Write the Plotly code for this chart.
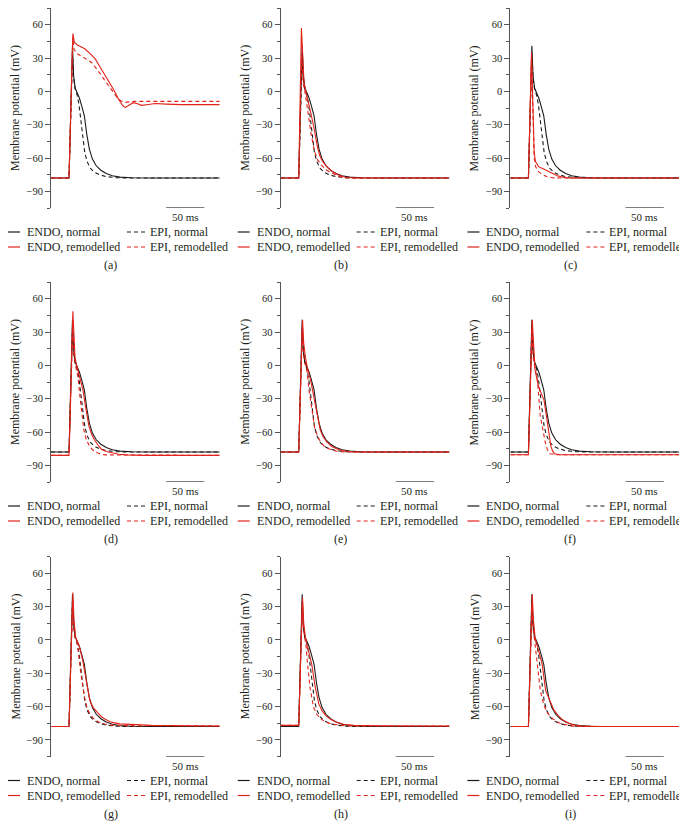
import plotly.graph_objects as go

# ---- data (time in ms, membrane potential in mV) ----
norm_endo_t = [0, 23.5, 28, 29.5, 31.5, 34, 37, 40, 43.5, 46.5, 50, 54, 59, 65, 72, 80, 90, 105, 130, 220]
norm_endo_v = [-78, -78, 41, 14, 3, -1, -6, -13, -22, -38, -52, -61, -67, -71, -74, -76, -77.2, -77.8, -78, -78]
norm_epi_t = [0, 23.5, 28, 29.5, 31.5, 34, 36.5, 39, 41.5, 44, 47, 51, 56, 63, 72, 85, 100, 220]
norm_epi_v = [-78, -78, 34, 12, 2, -3, -12, -28, -44, -55, -63, -69, -72.5, -75, -76.8, -77.7, -78, -78]

a_endo_t = [0, 23.5, 28.5, 29.5, 30.5, 35, 44, 51, 57.5, 63, 68, 74, 81, 88, 94, 97, 102, 107, 112, 118, 127, 136, 150, 170, 220]
a_endo_v = [-78, -78, 52, 47, 44, 41.5, 38.3, 34, 29.4, 23, 17.3, 10, 2.4, -7, -13.2, -14.5, -12.5, -10.2, -11, -12.6, -11.8, -11, -11.5, -12, -12]
a_epi_t = [0, 23.5, 28.5, 30, 33.5, 40, 46, 53, 59, 64, 69, 74.7, 80, 85.6, 91, 96.5, 102, 110, 122.6, 150, 220]
a_epi_v = [-78, -78, 48, 38, 34, 31, 29, 26, 21, 16, 11, 5.4, 0, -5, -8.5, -10, -9.5, -9, -9, -9, -9]

b_endo_t = [0, 23.5, 27, 28.5, 30.4, 33.5, 36, 39, 43.4, 47.8, 51, 55, 61, 68, 76, 85.6, 100, 220]
b_endo_v = [-78, -78, 57, 30, 8, -2.5, -9, -18.6, -33, -50, -58, -63.5, -68.5, -72.5, -75.5, -77.5, -78, -78]
b_epi_t = [0, 23.5, 27.5, 29, 32, 35.5, 39.9, 44.3, 48, 53, 60, 68, 76, 84, 100, 220]
b_epi_v = [-78, -78, 32, 8, -2, -18.6, -39.5, -54.5, -61.5, -66.5, -71, -74, -76.5, -78, -78, -78]

c_endo_t = [0, 23.5, 27.5, 29, 31, 32.6, 37, 42, 47.8, 54, 61, 68, 76, 90, 220]
c_endo_v = [-78, -78, 35, -10, -55, -63, -68, -69.5, -71.5, -74, -76, -77.2, -78, -78, -78]
c_epi_t = [0, 23.5, 27.5, 29, 31, 33, 37, 42, 48, 55, 65, 220]
c_epi_v = [-78, -78, 30, -15, -60, -68, -72.5, -75, -76.8, -77.8, -78, -78]

d_endo_t = [0, 23.5, 28.5, 31.3, 33.5, 38.2, 41.7, 45, 49.5, 53, 56.6, 61, 65.7, 72, 79.5, 88, 98, 120, 220]
d_endo_v = [-81, -81, 48.7, 7.5, 0, -11.7, -22.4, -37, -55, -62, -67, -71.5, -75.5, -77.5, -79, -80, -80.6, -81, -81]
d_epi_t = [0, 23.5, 28.5, 30, 32, 35, 38.2, 42.8, 46, 49.5, 54, 61, 70, 220]
d_epi_v = [-81, -81, 36, 10, 0, -10, -31, -58, -67, -71.7, -76, -79, -80.6, -81]

e_endo_t = [0, 23.5, 28.5, 30, 32.3, 34.5, 39, 43.6, 48.3, 51.5, 55.2, 60, 66.6, 75, 87, 100, 220]
e_endo_v = [-78, -78, 41, 20, 7.5, -1.5, -13.4, -31, -49, -58, -64, -69, -73, -75.8, -77.5, -78, -78]
e_epi_t = [0, 23.5, 28, 29.5, 32, 34.5, 36.9, 41.5, 44.5, 48.3, 52, 57, 65, 75, 90, 220]
e_epi_v = [-78, -78, 33, 10, 1, -6, -22.4, -46, -57, -64, -69, -73, -75.8, -77.7, -78, -78]

f_endo_t = [0, 23.5, 28.5, 30.5, 32.2, 36.8, 40, 43.7, 46, 48.3, 50.5, 52.8, 55, 57.4, 65, 220]
f_endo_v = [-80.5, -80.5, 41, 10, -4.5, -19.4, -25, -31, -41, -52, -63, -73, -77, -79.5, -80.5, -80.5]
f_epi_t = [0, 23.5, 28, 29.5, 32, 35, 39, 41.5, 43.7, 46, 48.3, 51.6, 60, 220]
f_epi_v = [-80.5, -80.5, 34, 8, -2, -12, -46, -56, -64, -71, -76, -79.5, -80.5, -80.5]

g_endo_t = [0, 23.5, 28.5, 30, 32.2, 36.8, 41.4, 46, 50.6, 55, 59.8, 66, 73.6, 80, 89.7, 110, 131, 180, 220]
g_endo_v = [-78, -78, 42.5, 18, 2, -5.4, -18.8, -36.8, -54.7, -61, -65, -69.5, -72.6, -74.3, -75.6, -76.4, -77, -77.3, -77.6]
g_epi_t = [0, 23.5, 28, 29.5, 31.5, 34.4, 39, 43.7, 47, 50.6, 55, 62, 70, 80.5, 110, 220]
g_epi_v = [-78, -78, 34, 12, 2, -3.9, -30.8, -51.7, -61, -66.6, -70.5, -74, -75.8, -77, -77.3, -77.5]

h_endo_t = [0, 23.5, 28.5, 30, 32.2, 35.9, 40.4, 45.1, 49.7, 54, 58.8, 65, 72.6, 82, 95.6, 130, 220]
h_endo_v = [-77, -77, 38, 15, 2, -9.9, -21.8, -42.7, -57.7, -64, -68.2, -71.5, -74, -76, -77, -77.3, -77.5]
h_epi_t = [0, 23.5, 28, 29.5, 31.5, 33, 35, 38.2, 42.8, 47, 52, 58, 65.7, 80, 100, 220]
h_epi_v = [-77, -77, 33, 10, 1, -5, -21.8, -42.7, -60.6, -67, -71, -73.8, -75.6, -77, -77.5, -77.5]

i_endo_t = [0, 23.5, 28.5, 30, 32.2, 36.8, 41.4, 46, 52.9, 57, 62, 68, 75.9, 84, 94, 120, 220]
i_endo_v = [-78, -78, 41, 18, 2, -10, -21.8, -45.7, -57.7, -63.5, -68, -72, -75, -76.7, -77.7, -78, -78]
i_epi_t = [0, 23.5, 28, 29.5, 31.5, 34.4, 39, 43.7, 48, 52.9, 59, 66.7, 75, 84, 100, 220]
i_epi_v = [-78, -78, 33, 10, 0, -15.8, -45.7, -59, -65.5, -69.6, -73, -75.6, -77, -78, -78, -78]

panel_labels = ["(a)", "(b)", "(c)", "(d)", "(e)", "(f)", "(g)", "(h)", "(i)"]
remodelled = [
    (a_endo_t, a_endo_v, a_epi_t, a_epi_v),
    (b_endo_t, b_endo_v, b_epi_t, b_epi_v),
    (c_endo_t, c_endo_v, c_epi_t, c_epi_v),
    (d_endo_t, d_endo_v, d_epi_t, d_epi_v),
    (e_endo_t, e_endo_v, e_epi_t, e_epi_v),
    (f_endo_t, f_endo_v, f_epi_t, f_epi_v),
    (g_endo_t, g_endo_v, g_epi_t, g_epi_v),
    (h_endo_t, h_endo_v, h_epi_t, h_epi_v),
    (i_endo_t, i_endo_v, i_epi_t, i_epi_v),
]
series_names = ["ENDO, normal", "EPI, normal", "ENDO, remodelled", "EPI, remodelled"]
y_ticks = [-90, -60, -30, 0, 30, 60]
y_minor = [-105, -75, -45, -15, 15, 45, 75]

# ---- geometry: positions are given in window pixels; the page body has an 8px margin ----
OFF = 8
W, H = 687 - OFF, 839 - OFF
BLACK = "#1b1b1b"
RED = "#e2231a"
DASH = "4px,3px"
FONT = "Liberation Serif, DejaVu Serif, serif"
TXT = "#231f20"
AX = "#555555"
ms_px = 0.767
col_px = [51, 280.7, 510.4]
row_px = [8, 282, 556.5]


def px(x):
    return (x - OFF) / W


def py(y):
    return min(1, max(0, 1 - (y - OFF) / H))


styles = [(BLACK, "solid"), (BLACK, DASH), (RED, "solid"), (RED, DASH)]

fig = go.Figure()
shapes = []
annotations = []
layout = {}

for k in range(9):
    r, c = divmod(k, 3)
    sfx = "" if k == 0 else str(k + 1)
    xa, ya = "x" + sfx, "y" + sfx
    x0 = col_px[c]
    top = row_px[r]
    layout["xaxis" + sfx] = dict(
        domain=[px(x0), px(x0 + 220 * ms_px)], range=[0, 220],
        visible=False, anchor=ya, fixedrange=True,
    )
    layout["yaxis" + sfx] = dict(
        domain=[py(top + 200), py(top)], range=[-105, 75], anchor=xa,
        showline=True, linecolor=AX, linewidth=1, showgrid=False, zeroline=False,
        ticks="outside", ticklen=5, tickcolor=AX, tickwidth=1, tickvals=y_ticks,
        minor=dict(tickvals=y_minor, ticks="outside", ticklen=3, tickcolor=AX),
        tickfont=dict(family=FONT, size=10.5, color=TXT), fixedrange=True,
    )

    et, ev, pt, pv = remodelled[k]
    traces = [(norm_endo_t, norm_endo_v), (norm_epi_t, norm_epi_v), (et, ev), (pt, pv)]
    for (tt, vv), (col, dash), name in zip(traces, styles, series_names):
        fig.add_trace(go.Scatter(
            x=tt, y=vv, mode="lines", name=name, showlegend=False,
            line=dict(color=col, width=1.1, dash=dash), xaxis=xa, yaxis=ya,
        ))

    # 50 ms scale bar
    shapes.append(dict(type="line", xref=xa, yref=ya, x0=150, x1=200, y0=-105, y1=-105,
                       line=dict(color="black", width=1.2)))
    annotations.append(dict(text="50 ms", xref=xa, yref=ya, x=175, y=-105,
                            xanchor="center", yanchor="top", yshift=-1, showarrow=False,
                            font=dict(family=FONT, size=11, color=TXT)))

    # y axis title
    annotations.append(dict(text="Membrane potential (mV)", xref="paper", yref="paper",
                            x=px(15 + 229.7 * c), y=py(top + 100), textangle=-90,
                            xanchor="center", yanchor="middle", showarrow=False,
                            font=dict(family=FONT, size=12, color=TXT)))

    # panel label
    annotations.append(dict(text=panel_labels[k], xref="paper", yref="paper",
                            x=px(111 + 229.7 * c), y=py(top + 257),
                            xanchor="center", yanchor="middle", showarrow=False,
                            font=dict(family=FONT, size=12, color=TXT)))

    # legend block under the panel
    c0 = 229.7 * c
    leg = [(c0 + 8, c0 + 20, c0 + 25, top + 224), (c0 + 127, c0 + 146, c0 + 148, top + 224),
           (c0 + 8, c0 + 20, c0 + 25, top + 239), (c0 + 127, c0 + 146, c0 + 148, top + 239)]
    for (lx0, lx1, tx, ly), (col, dash), name in zip(leg, styles, series_names):
        shapes.append(dict(type="line", xref="paper", yref="paper",
                           x0=px(lx0), x1=px(lx1), y0=py(ly), y1=py(ly),
                           line=dict(color=col, width=1.2, dash=dash)))
        annotations.append(dict(text=name, xref="paper", yref="paper", x=px(tx),
                                y=py(ly), xanchor="left", yanchor="middle",
                                showarrow=False, font=dict(family=FONT, size=12, color=TXT)))

fig.update_layout(
    width=W, height=H,
    margin=dict(l=0, r=0, t=0, b=0),
    paper_bgcolor="white", plot_bgcolor="white",
    showlegend=False,
    shapes=shapes, annotations=annotations,
    **layout,
)

fig.write_html("out.html")
